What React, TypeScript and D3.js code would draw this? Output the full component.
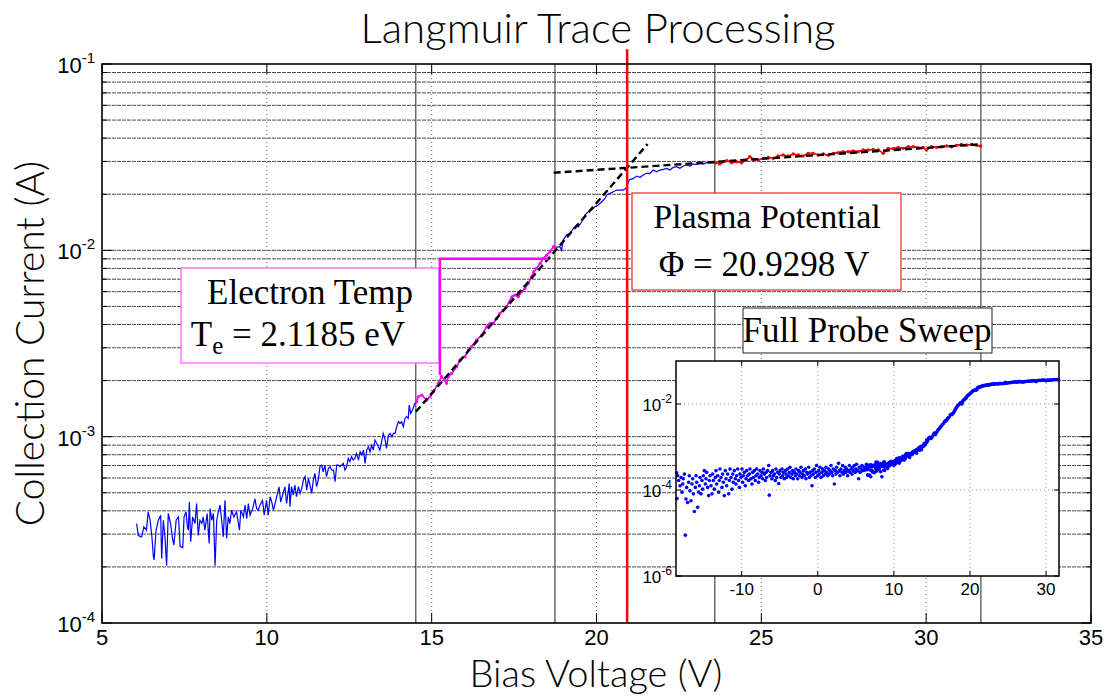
import React from 'react';
import * as d3 from 'd3';

// ---------- axis / tick data ----------
const xTicks = [5, 10, 15, 20, 25, 30, 35];
const yDecades = [1e-4, 1e-3, 1e-2, 1e-1];
const yDecadeExp = ['-4', '-3', '-2', '-1'];
const insetXTicks = [-10, 0, 10, 20, 30];
const insetYTicks = [1e-6, 1e-4, 1e-2];
const insetYExp = ['-6', '-4', '-2'];

// ---------- analysis results ----------
const plasmaPotential = 20.9298;
const electronTempEv = 2.1185;
const eFitRange = [14.52, 18.74];
const satFitRange = [23.59, 31.66];
const eFitLine: [number, number][] = [[14.52, 1.36e-3], [21.55, 3.72e-2]];
const satFitLine: [number, number][] = [[18.7, 2.61e-2], [31.66, 3.71e-2]];
const tempBracket: [number, number][] = [[18.53, 9.0e-3], [15.25, 9.0e-3], [15.25, 2.14e-3]];
const plasmaLineTop = 0.12;

// ---------- measured trace [V, I(A)] ----------
const traceLow: [number, number][] = [
  [6.05, 3.42e-4], [6.10, 2.95e-4], [6.20, 2.90e-4], [6.27, 3.28e-4], [6.35, 3.15e-4], [6.40, 3.95e-4],
  [6.46, 3.56e-4], [6.51, 2.95e-4], [6.56, 2.27e-4], [6.58, 2.18e-4], [6.64, 3.15e-4], [6.71, 3.56e-4],
  [6.78, 3.79e-4], [6.81, 2.22e-4], [6.86, 3.56e-4], [6.91, 2.90e-4], [6.96, 2.03e-4], [7.01, 3.87e-4],
  [7.08, 3.42e-4], [7.14, 2.84e-4], [7.18, 2.62e-4], [7.25, 3.56e-4], [7.32, 3.71e-4], [7.37, 2.57e-4],
  [7.45, 2.54e-4], [7.49, 3.71e-4], [7.55, 3.95e-4], [7.59, 3.28e-4], [7.62, 3.15e-4], [7.65, 4.46e-4],
  [7.69, 2.73e-4], [7.75, 3.71e-4], [7.82, 3.42e-4], [7.87, 4.38e-4], [7.92, 2.95e-4], [7.97, 3.56e-4],
  [8.03, 3.42e-4], [8.07, 3.71e-4], [8.12, 3.15e-4], [8.19, 3.87e-4], [8.25, 2.67e-4], [8.28, 4.11e-4],
  [8.33, 3.56e-4], [8.38, 3.87e-4], [8.43, 2.03e-4], [8.48, 3.56e-4], [8.53, 3.95e-4], [8.58, 4.29e-4],
  [8.63, 3.56e-4], [8.68, 2.90e-4], [8.73, 4.55e-4], [8.78, 2.84e-4], [8.83, 3.71e-4], [8.88, 3.42e-4],
  [8.93, 4.03e-4], [9.00, 3.71e-4], [9.08, 3.95e-4], [9.17, 3.15e-4], [9.21, 4.03e-4], [9.29, 3.71e-4],
  [9.34, 4.29e-4], [9.39, 3.63e-4], [9.44, 4.38e-4], [9.49, 3.79e-4], [9.57, 4.11e-4], [9.64, 4.64e-4],
  [9.69, 4.11e-4], [9.74, 4.03e-4], [9.79, 4.29e-4], [9.87, 4.55e-4], [9.92, 3.79e-4], [9.99, 4.55e-4],
  [10.04, 3.79e-4], [10.10, 4.76e-4], [10.15, 4.46e-4], [10.20, 4.03e-4], [10.30, 4.76e-4], [10.37, 5.38e-4],
  [10.42, 4.46e-4], [10.50, 5.02e-4], [10.55, 5.38e-4], [10.60, 4.38e-4], [10.68, 5.60e-4],
];
const traceMid: [number, number][] = [
  [10.70, 4.21e-4], [10.75, 5.39e-4], [10.80, 4.86e-4], [10.85, 5.50e-4], [10.90, 4.76e-4], [10.96, 5.39e-4],
  [11.01, 4.96e-4], [11.06, 5.28e-4], [11.11, 5.85e-4], [11.16, 6.10e-4], [11.21, 5.17e-4], [11.26, 5.97e-4],
  [11.31, 5.50e-4], [11.36, 4.96e-4], [11.41, 5.85e-4], [11.46, 6.35e-4], [11.51, 5.39e-4], [11.56, 5.85e-4],
  [11.61, 6.90e-4], [11.66, 7.04e-4], [11.71, 6.48e-4], [11.76, 7.04e-4], [11.81, 6.10e-4], [11.87, 6.76e-4],
  [11.92, 6.90e-4], [11.97, 6.62e-4], [12.02, 6.62e-4], [12.07, 5.73e-4], [12.12, 7.04e-4], [12.17, 7.04e-4],
  [12.22, 6.90e-4], [12.32, 7.19e-4], [12.37, 6.62e-4], [12.42, 6.90e-4], [12.47, 7.65e-4], [12.52, 7.34e-4],
  [12.57, 7.81e-4], [12.62, 7.49e-4], [12.67, 7.65e-4], [12.72, 8.13e-4], [12.78, 7.49e-4], [12.83, 8.30e-4],
  [12.88, 7.97e-4], [12.93, 8.47e-4], [12.98, 7.19e-4], [13.03, 8.47e-4], [13.08, 8.83e-4], [13.13, 8.30e-4],
  [13.18, 9.01e-4], [13.23, 8.47e-4], [13.28, 9.59e-4], [13.33, 9.21e-4], [13.38, 8.83e-4], [13.43, 8.47e-4],
  [13.48, 9.39e-4], [13.53, 1.041e-3], [13.58, 9.79e-4], [13.63, 8.66e-4], [13.69, 1.020e-3], [13.74, 1.041e-3],
  [13.79, 0.999e-3], [13.84, 1.041e-3], [13.89, 1.041e-3], [13.94, 1.131e-3], [13.99, 1.203e-3], [14.04, 1.178e-3],
  [14.09, 1.203e-3], [14.14, 1.131e-3], [14.19, 1.253e-3], [14.24, 1.280e-3], [14.29, 1.253e-3], [14.32, 1.479e-3],
  [14.36, 1.333e-3], [14.42, 1.390e-3], [14.49, 1.510e-3], [14.54, 1.540e-3],
];
const traceFit: [number, number][] = [
  [14.59, 1.638e-3], [14.70, 1.672e-3], [14.85, 1.572e-3], [14.95, 1.638e-3], [15.05, 1.742e-3], [15.20, 1.932e-3],
  [15.30, 2.099e-3], [15.40, 2.013e-3], [15.45, 1.932e-3], [15.50, 2.099e-3], [15.61, 2.186e-3], [15.76, 2.374e-3],
  [15.86, 2.578e-3], [16.01, 2.686e-3], [16.11, 2.916e-3], [16.21, 3.039e-3], [16.36, 3.300e-3], [16.52, 3.511e-3],
  [16.67, 3.891e-3], [16.77, 4.056e-3], [16.87, 4.056e-3], [16.97, 4.313e-3], [17.07, 4.589e-3], [17.17, 4.781e-3],
  [17.27, 4.982e-3], [17.43, 5.636e-3], [17.53, 5.756e-3], [17.63, 5.636e-3], [17.73, 6.001e-3], [17.83, 6.251e-3],
  [17.93, 6.647e-3], [18.03, 7.217e-3], [18.10, 7.678e-3], [18.18, 8.003e-3], [18.29, 8.513e-3], [18.39, 9.054e-3],
  [18.49, 9.435e-3], [18.59, 9.830e-3], [18.69, 1.046e-2], [18.74, 1.033e-2],
];
const traceKnee: [number, number][] = [
  [18.89, 1.046e-2], [18.94, 1.004e-2], [18.99, 1.135e-2], [19.09, 1.208e-2], [19.20, 1.233e-2], [19.30, 1.312e-2],
  [19.40, 1.367e-2], [19.45, 1.339e-2], [19.55, 1.424e-2], [19.65, 1.546e-2], [19.75, 1.611e-2], [19.85, 1.644e-2],
  [19.95, 1.714e-2], [20.05, 1.750e-2], [20.16, 1.824e-2], [20.26, 1.900e-2], [20.31, 1.981e-2], [20.41, 2.021e-2],
  [20.51, 2.064e-2], [20.61, 2.106e-2], [20.71, 2.106e-2], [20.81, 2.106e-2], [20.89, 2.150e-2], [20.93, 2.241e-2],
  [20.99, 2.384e-2], [21.12, 2.433e-2], [21.22, 2.504e-2], [21.32, 2.464e-2], [21.42, 2.537e-2], [21.52, 2.590e-2],
  [21.62, 2.590e-2], [21.72, 2.697e-2], [21.82, 2.642e-2], [21.92, 2.697e-2], [22.03, 2.720e-2], [22.13, 2.754e-2],
  [22.23, 2.697e-2], [22.33, 2.788e-2], [22.43, 2.811e-2], [22.53, 2.754e-2], [22.63, 2.834e-2], [22.73, 2.869e-2],
  [22.83, 2.834e-2], [22.94, 2.905e-2], [23.04, 2.895e-2], [23.14, 2.929e-2], [23.24, 2.905e-2], [23.34, 2.954e-2],
  [23.49, 2.954e-2], [23.59, 2.960e-2],
];
const traceSat: [number, number][] = [
  [23.61, 2.953e-2], [23.74, 2.905e-2], [23.95, 3.028e-2], [24.10, 2.953e-2], [24.25, 2.990e-2], [24.40, 2.953e-2],
  [24.55, 3.053e-2], [24.65, 3.181e-2], [24.76, 3.078e-2], [24.91, 3.053e-2], [25.06, 3.116e-2], [25.21, 3.155e-2],
  [25.36, 3.116e-2], [25.51, 3.207e-2], [25.66, 3.248e-2], [25.82, 3.207e-2], [25.97, 3.288e-2], [26.12, 3.248e-2],
  [26.27, 3.207e-2], [26.42, 3.315e-2], [26.57, 3.315e-2], [26.73, 3.248e-2], [26.88, 3.288e-2], [27.03, 3.235e-2],
  [27.18, 3.315e-2], [27.33, 3.342e-2], [27.48, 3.384e-2], [27.64, 3.384e-2], [27.79, 3.411e-2], [27.94, 3.384e-2],
  [28.09, 3.454e-2], [28.24, 3.454e-2], [28.39, 3.482e-2], [28.55, 3.454e-2], [28.70, 3.315e-2], [28.85, 3.526e-2],
  [29.00, 3.511e-2], [29.15, 3.570e-2], [29.30, 3.526e-2], [29.46, 3.599e-2], [29.61, 3.599e-2], [29.76, 3.555e-2],
  [29.91, 3.570e-2], [30.01, 3.454e-2], [30.16, 3.599e-2], [30.32, 3.570e-2], [30.47, 3.599e-2], [30.62, 3.629e-2],
  [30.77, 3.599e-2], [30.92, 3.657e-2], [31.07, 3.704e-2], [31.23, 3.673e-2], [31.38, 3.704e-2], [31.53, 3.657e-2],
  [31.65, 3.629e-2],
];

// ---------- full probe sweep, low-voltage part [V, log10 I] ----------
const sweepLowLog: [number, number][] = [
  [-18.55, -3.60], [-18.50, -4.20], [-18.41, -3.67], [-18.28, -3.78], [-18.10, -3.90], [-17.97, -3.71], [-17.84, -4.05],
  [-17.75, -3.86], [-17.67, -3.74], [-17.53, -3.63], [-17.40, -5.05], [-17.32, -4.21], [-17.23, -3.94], [-17.10, -4.29],
  [-16.97, -3.82], [-16.88, -3.67], [-16.79, -4.02], [-16.66, -4.25], [-16.53, -3.86], [-16.44, -3.74], [-16.35, -4.09],
  [-16.22, -4.50], [-16.09, -3.94], [-16.00, -3.67], [-15.91, -3.82], [-15.78, -4.40], [-15.65, -4.05], [-15.56, -3.90],
  [-15.48, -3.71], [-15.35, -4.09], [-15.21, -3.78], [-15.13, -3.98], [-15.04, -3.67], [-14.91, -3.55], [-14.78, -3.86],
  [-14.69, -3.74], [-14.60, -3.59], [-14.47, -3.94], [-14.34, -4.13], [-14.25, -3.78], [-14.16, -3.67], [-14.03, -3.90],
  [-13.90, -4.09], [-13.81, -3.63], [-13.72, -3.78], [-13.59, -3.98], [-13.46, -3.71], [-13.37, -3.55], [-13.29, -3.86],
  [-13.16, -3.67], [-13.02, -4.05], [-12.94, -3.78], [-12.85, -3.51], [-12.72, -3.71], [-12.59, -3.94], [-12.50, -3.63],
  [-12.41, -3.82], [-12.28, -4.13], [-12.15, -3.55], [-12.06, -3.74], [-11.97, -3.90], [-11.84, -3.63], [-11.71, -4.09],
  [-11.62, -3.78], [-11.53, -3.51], [-11.40, -3.71], [-11.27, -3.98], [-11.18, -3.63], [-11.10, -3.82], [-10.97, -3.55],
  [-10.83, -3.74], [-10.75, -3.86], [-10.66, -3.67], [-10.53, -3.51], [-10.40, -3.78], [-10.31, -3.94], [-10.22, -3.63],
  [-10.09, -3.71], [-9.96, -3.51], [-9.87, -3.82], [-9.78, -3.67], [-9.65, -3.59], [-9.52, -3.90], [-9.43, -3.74],
  [-9.34, -3.55], [-9.21, -3.67], [-9.08, -3.78], [-8.99, -3.63], [-8.91, -3.51], [-8.78, -3.74], [-8.65, -3.86],
  [-8.56, -3.59], [-8.47, -3.71], [-8.34, -3.55], [-8.21, -3.78], [-8.12, -3.67], [-8.03, -3.51], [-7.90, -3.63],
  [-7.77, -3.82], [-7.68, -3.71], [-7.59, -3.55], [-7.46, -3.67], [-7.33, -3.59], [-7.24, -3.74], [-7.15, -3.51],
  [-7.02, -3.63], [-6.89, -3.78], [-6.80, -3.59], [-6.72, -3.71], [-6.59, -3.55], [-6.45, -3.43], [-6.37, -4.12],
  [-6.28, -3.67], [-6.15, -3.59], [-6.02, -3.74], [-5.93, -3.55], [-5.84, -3.67], [-5.71, -3.63], [-5.58, -3.78],
  [-5.49, -3.51], [-5.40, -3.71], [-5.27, -3.59], [-5.14, -3.85], [-5.05, -3.63], [-4.96, -3.55], [-4.83, -3.71],
  [-4.70, -3.51], [-4.61, -3.67], [-4.53, -3.59], [-4.40, -3.74], [-4.26, -3.55], [-4.18, -3.63], [-4.09, -3.71],
  [-3.96, -3.51], [-3.83, -3.67], [-3.74, -3.59], [-3.65, -3.47], [-3.52, -3.71], [-3.39, -3.63], [-3.30, -3.55],
  [-3.21, -3.74], [-3.08, -3.59], [-2.95, -3.67], [-2.86, -3.51], [-2.77, -3.63], [-2.64, -3.74], [-2.51, -3.55],
  [-2.42, -3.67], [-2.34, -3.59], [-2.21, -3.47], [-2.07, -3.71], [-1.99, -3.63], [-1.90, -3.55], [-1.77, -3.67],
  [-1.64, -3.51], [-1.55, -3.74], [-1.46, -3.59], [-1.33, -3.63], [-1.20, -3.47], [-1.11, -3.71], [-1.02, -3.59],
  [-0.89, -3.67], [-0.76, -3.90], [-0.67, -3.55], [-0.58, -3.63], [-0.45, -3.51], [-0.32, -3.71], [-0.23, -3.59],
  [-0.15, -3.43], [-0.02, -3.67], [0.12, -3.55], [0.20, -3.63], [0.29, -3.47], [0.42, -3.71], [0.55, -3.59],
  [0.64, -3.51], [0.73, -3.67], [0.86, -3.55], [0.99, -3.63], [1.08, -3.47], [1.17, -3.59], [1.30, -3.67],
  [1.43, -3.51], [1.52, -3.63], [1.61, -3.55], [1.74, -3.43], [1.87, -3.59], [1.96, -3.67], [2.04, -3.51],
  [2.18, -3.86], [2.31, -3.55], [2.39, -3.63], [2.48, -3.47], [2.61, -3.59], [2.74, -3.38], [2.83, -3.55],
  [2.92, -3.67], [3.05, -3.51], [3.18, -3.59], [3.27, -3.43], [3.36, -3.63], [3.49, -3.55], [3.62, -3.47],
  [3.71, -3.59], [3.80, -3.51], [3.93, -3.67], [4.06, -3.55], [4.15, -3.43], [4.23, -3.59], [4.37, -3.51],
  [4.50, -3.63], [4.58, -3.47], [4.67, -3.55], [4.80, -3.43], [4.93, -3.59], [5.02, -3.51], [5.11, -3.40],
  [5.24, -3.55], [5.37, -3.74], [5.46, -3.47], [5.55, -3.59], [5.68, -3.51], [5.81, -3.43], [5.90, -3.55],
];

const SANS = 'Lato, "Open Sans", sans-serif';
const TICKF = '"Liberation Sans", Arial, Helvetica, sans-serif';
const SERIF = '"Liberation Serif", "Times New Roman", serif';

const isDecade = (t: number) => Math.abs(Math.log10(t) - Math.round(Math.log10(t))) < 1e-6;

export default function App() {
  const W = 1112, H = 700;
  const x = d3.scaleLinear().domain([5, 35]).range([102, 1091]);
  const y = d3.scaleLog().domain([1e-4, 1e-1]).range([623, 64]);
  const [x0, x1] = x.range();
  const [y0, y1] = y.range();

  const trace = [...traceLow, ...traceMid, ...traceFit, ...traceKnee, ...traceSat];
  const line = d3.line<[number, number]>().x(d => x(d[0])).y(d => y(d[1]));
  const ePts = trace.filter(d => d[0] >= eFitRange[0] && d[0] <= eFitRange[1]);
  const sPts = trace.filter(d => d[0] >= satFitRange[0] && d[0] <= satFitRange[1]);
  const yGrid = y.ticks();

  // inset
  const xi = d3.scaleLinear().domain([-18.63, 31.7]).range([676, 1059]);
  const yi = d3.scaleLog().domain([1e-6, 1e-1]).range([576, 361]);
  const sweep: [number, number][] = [
    ...sweepLowLog.map(d => [d[0], Math.pow(10, d[1])] as [number, number]),
    ...trace,
  ];

  const bracketLine = line(tempBracket) || '';
  const ix0 = xi.range()[0], ix1 = xi.range()[1];
  const iy0 = yi.range()[0], iy1 = yi.range()[1];

  return (
    <svg width={W} height={H} style={{ position: 'absolute', left: 0, top: 0, background: '#fff' }}>
      <rect x={0} y={0} width={W} height={H} fill="#fff" />
      {/* title */}
      <text x={598} y={43} textAnchor="middle" fontFamily={SANS} fontWeight={300} fontSize={42} fill="#000">
        Langmuir Trace Processing
      </text>

      {/* horizontal grid */}
      {yGrid.filter(t => t > 1e-4 * 1.001 && t < 1e-1 * 0.999).map((t, i) => (
        <line key={'hg' + i} x1={x0} x2={x1} y1={y(t)} y2={y(t)} stroke="#4a4a4a" strokeWidth={1} strokeDasharray="4 1" />
      ))}
      {/* vertical grid */}
      {xTicks.slice(1, -1).map(t => (
        <line key={'vg' + t} x1={x(t)} x2={x(t)} y1={y0} y2={y1} stroke="#666" strokeWidth={1} strokeDasharray="1 3" />
      ))}
      {/* fit region markers */}
      {[...eFitRange, ...satFitRange].map((v, i) => (
        <line key={'fr' + i} x1={x(v)} x2={x(v)} y1={y0} y2={y1} stroke="#222" strokeWidth={1} />
      ))}

      {/* data */}
      <path d={line(trace) || ''} fill="none" stroke="#0000ff" strokeWidth={1.2} />
      <path d={line(ePts) || ''} fill="none" stroke="#ff00ff" strokeWidth={1.4} />
      {ePts.map((d, i) => <circle key={'ep' + i} cx={x(d[0])} cy={y(d[1])} r={1.6} fill="#ff00ff" />)}
      <path d={line(sPts) || ''} fill="none" stroke="#ff0000" strokeWidth={1.4} />
      {sPts.map((d, i) => <circle key={'sp' + i} cx={x(d[0])} cy={y(d[1])} r={1.7} fill="#ff0000" />)}

      {/* fits */}
      <path d={line(eFitLine) || ''} stroke="#000" strokeWidth={2.4} strokeDasharray="7 4" fill="none" />
      <path d={line(satFitLine) || ''} stroke="#000" strokeWidth={2.4} strokeDasharray="7 4" fill="none" />

      {/* plasma potential line */}
      <line x1={x(plasmaPotential)} x2={x(plasmaPotential)} y1={y0} y2={y(plasmaLineTop)} stroke="#ff0000" strokeWidth={2.5} />

      {/* electron temp annotation */}
      <rect x={181} y={268} width={258} height={95} fill="#fff" stroke="#ff55ff" strokeWidth={1.2} />
      <path d={bracketLine} fill="none" stroke="#ff00ff" strokeWidth={2.5} />
      <text x={310} y={304} textAnchor="middle" fontFamily={SERIF} fontSize={35} fill="#000">Electron Temp</text>
      <text x={298} y={346} textAnchor="middle" fontFamily={SERIF} fontSize={35} fill="#000">
        <tspan>T</tspan><tspan dy={8} fontSize={25}>e</tspan><tspan dy={-8}>{` = ${electronTempEv.toFixed(4)} eV`}</tspan>
      </text>

      {/* plasma potential annotation */}
      <rect x={632} y={193} width={269} height={97} fill="#fff" stroke="#ee2222" strokeWidth={1.2} />
      <text x={767} y={228} textAnchor="middle" fontFamily={SERIF} fontSize={34} fill="#000">Plasma Potential</text>
      <text x={764} y={276} textAnchor="middle" fontFamily={SERIF} fontSize={35} fill="#000">
        {`Φ = ${plasmaPotential.toFixed(4)} V`}
      </text>

      {/* inset title */}
      <rect x={743} y={308} width={249} height={45} fill="#fff" stroke="#222" strokeWidth={1} />
      <text x={867} y={342} textAnchor="middle" fontFamily={SERIF} fontSize={35} fill="#000">Full Probe Sweep</text>

      {/* inset */}
      <g>
        <rect x={ix0} y={iy1} width={ix1 - ix0} height={iy0 - iy1} fill="#fff" />
        {insetXTicks.filter(t => xi(t) < ix1 - 2).map(t => (
          <line key={'ixg' + t} x1={xi(t)} x2={xi(t)} y1={iy0} y2={iy1} stroke="#999" strokeDasharray="1 3" />
        ))}
        {insetYTicks.slice(1).map((t, i) => (
          <line key={'iyg' + i} x1={ix0} x2={ix1} y1={yi(t)} y2={yi(t)} stroke="#999" strokeDasharray="1 3" />
        ))}
        {sweep.map((d, i) => <circle key={'sw' + i} cx={xi(d[0])} cy={yi(d[1])} r={1.8} fill="#0000ff" />)}
        <rect x={ix0} y={iy1} width={ix1 - ix0} height={iy0 - iy1} fill="none" stroke="#000" strokeWidth={1.5} />
        {insetXTicks.map(t => (
          <g key={'ixt' + t}>
            <line x1={xi(t)} x2={xi(t)} y1={iy0} y2={iy0 - 5} stroke="#000" />
            <line x1={xi(t)} x2={xi(t)} y1={iy1} y2={iy1 + 5} stroke="#000" />
            <text x={xi(t)} y={595} textAnchor="middle" fontFamily={TICKF} fontSize={17} fill="#000">{t}</text>
          </g>
        ))}
        {insetYTicks.map((t, i) => (
          <g key={'iyt' + i}>
            <line x1={ix0} x2={ix0 + 5} y1={yi(t)} y2={yi(t)} stroke="#000" />
            <line x1={ix1} x2={ix1 - 5} y1={yi(t)} y2={yi(t)} stroke="#000" />
            <text x={672} y={yi(t) + 7} textAnchor="end" fontFamily={TICKF} fontSize={17} fill="#000">
              <tspan>10</tspan><tspan dy={-8} fontSize={12}>{insetYExp[i]}</tspan>
            </text>
          </g>
        ))}
      </g>

      {/* main axes frame and ticks */}
      <rect x={x0} y={y1} width={x1 - x0} height={y0 - y1} fill="none" stroke="#000" strokeWidth={1.6} />
      {xTicks.map(t => (
        <g key={'xt' + t}>
          <line x1={x(t)} x2={x(t)} y1={y0} y2={y0 - 10} stroke="#000" />
          <line x1={x(t)} x2={x(t)} y1={y1} y2={y1 + 10} stroke="#000" />
          <text x={x(t)} y={645} textAnchor="middle" fontFamily={TICKF} fontSize={22} fill="#000">{t}</text>
        </g>
      ))}
      {yGrid.map((t, i) => {
        const len = isDecade(t) ? 10 : 5;
        return (
          <g key={'yt' + i}>
            <line x1={x0} x2={x0 + len} y1={y(t)} y2={y(t)} stroke="#000" />
            <line x1={x1} x2={x1 - len} y1={y(t)} y2={y(t)} stroke="#000" />
          </g>
        );
      })}
      {yDecades.map((t, i) => (
        <text key={'yl' + i} x={95} y={y(t) + 9} textAnchor="end" fontFamily={TICKF} fontSize={22} fill="#000">
          <tspan>10</tspan><tspan dy={-10} fontSize={15}>{yDecadeExp[i]}</tspan>
        </text>
      ))}

      {/* axis labels */}
      <text x={596} y={687} textAnchor="middle" fontFamily={SANS} fontWeight={300} fontSize={38} fill="#000">Bias Voltage (V)</text>
      <text transform={`translate(44, ${(y0 + y1) / 2}) rotate(-90)`} textAnchor="middle" fontFamily={SANS} fontWeight={300} fontSize={39} fill="#000">
        Collection Current (A)
      </text>
    </svg>
  );
}
